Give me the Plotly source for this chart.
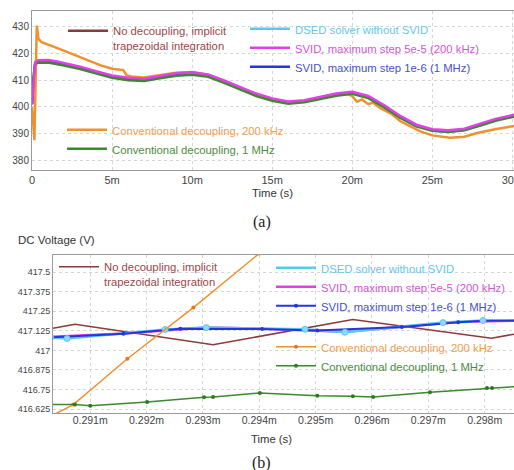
import plotly.graph_objects as go

# ---------------- (a) full transient, time in ms ----------------
t_main = [0, 0.1, 0.2, 0.4, 1.0, 1.5, 2.0, 3.0, 4.0, 5.0, 6.0, 7.0, 8.0, 9.0, 10.0, 11.0, 12.0,
          13.0, 14.0, 15.0, 16.0, 17.0, 18.0, 19.0, 20.0, 21.0, 22.0, 23.0, 24.0, 25.0, 26.0,
          27.0, 28.0, 29.0, 30.0, 30.2]
v_nodec_a = [401.0, 410.6, 416.4, 417.1, 417.2, 416.7, 416.0, 414.7, 413.0, 411.4, 410.5, 410.2, 411.2,
             412.2, 412.6, 411.8, 409.5, 406.9, 404.6, 402.8, 401.6, 402.1, 403.4, 404.6, 405.3,
             403.7, 400.2, 396.2, 392.9, 391.2, 390.8, 391.4, 393.3, 395.2, 396.5, 396.7]
v_dsed_a = [402.5, 410.4, 416.3, 417.0, 417.1, 416.6, 415.9, 414.6, 412.9, 411.3, 410.4, 410.1, 411.1,
            412.1, 412.5, 411.7, 409.4, 406.8, 404.5, 402.7, 401.5, 402.0, 403.3, 404.5, 405.2,
            403.6, 400.1, 396.1, 392.8, 391.1, 390.7, 391.3, 393.2, 395.1, 396.4, 396.6]
v_svid200_a = [401.0, 411.0, 416.8, 417.5, 417.6, 417.1, 416.4, 415.1, 413.4, 411.8, 410.9, 410.6, 411.6,
               412.6, 413.0, 412.2, 409.9, 407.3, 405.0, 403.2, 402.0, 402.5, 403.8, 405.0, 405.7,
               404.1, 400.6, 396.6, 393.3, 391.6, 391.2, 391.8, 393.7, 395.6, 396.9, 397.1]
v_svid1m_a = [401.0, 410.7, 416.5, 417.2, 417.3, 416.8, 416.1, 414.8, 413.1, 411.5, 410.6, 410.3, 411.3,
              412.3, 412.7, 411.9, 409.6, 407.0, 404.7, 402.9, 401.7, 402.2, 403.5, 404.7, 405.4,
              403.8, 400.3, 396.3, 393.0, 391.3, 390.9, 391.5, 393.4, 395.3, 396.6, 396.8]
v_conv1m_a = [404.0, 412.0, 416.2, 416.6, 416.7, 416.2, 415.5, 414.2, 412.5, 410.9, 410.0, 409.7, 410.7,
              411.7, 412.1, 411.3, 409.0, 406.4, 404.1, 402.3, 401.2, 401.7, 403.0, 404.2, 404.9,
              403.3, 399.8, 395.9, 392.7, 391.0, 390.6, 391.2, 393.0, 394.9, 396.2, 396.4]
t_conv200_a = [0, 0.08, 0.15, 0.3, 0.4, 0.6, 1.0, 1.75, 3.0, 4.25, 5.0, 5.7, 5.9, 6.2, 7.0, 8.0, 9.0,
               10.0, 11.0, 12.0, 13.0, 14.0, 15.0, 16.0, 17.0, 18.0, 19.0, 19.7, 20.0, 20.3, 20.6,
               21.0, 21.3, 21.75, 22.4, 23.0, 24.25, 25.0, 26.1, 27.0, 27.8, 29.0, 30.2]
v_conv200_a = [400.0, 393.0, 387.5, 430.5, 425.5, 424.3, 423.3, 421.7, 418.7, 415.7, 414.3, 413.8, 411.9,
               411.4, 411.0, 412.0, 412.8, 413.1, 412.0, 409.4, 406.8, 404.5, 402.7, 401.5, 402.0,
               403.3, 404.5, 404.9, 404.0, 401.9, 402.8, 401.0, 401.6, 399.5, 397.6, 394.6, 390.8,
               389.3, 388.4, 388.8, 390.2, 391.7, 392.9]
xt_a = [0, 5, 10, 15, 20, 25, 30]
xl_a = ["0", "5m", "10m", "15m", "20m", "25m", "30m"]
yt_a = [380, 390, 400, 410, 420, 430]

# ---------------- (b) zoom, time in ms ----------------
t_nodec_b = [0.29034, 0.29073, 0.29318, 0.29566, 0.29812, 0.29852]
v_nodec_b = [417.142, 417.168, 417.036, 417.198, 417.078, 417.104]
t_dsed_b = [0.29030, 0.29059, 0.29233, 0.29306, 0.29481, 0.29552, 0.29726, 0.29797, 0.29860]
v_dsed_b = [417.082, 417.076, 417.134, 417.146, 417.135, 417.116, 417.178, 417.191, 417.190]
t_svid200_b = [0.29030, 0.29159, 0.29306, 0.29405, 0.29552, 0.29653, 0.29753, 0.29860]
v_svid200_b = [417.086, 417.108, 417.147, 417.139, 417.120, 417.150, 417.181, 417.192]
t_svid1m_b = [0.29030, 0.29159, 0.29260, 0.29405, 0.29503, 0.29653, 0.29753, 0.29797, 0.29860]
v_svid1m_b = [417.083, 417.106, 417.138, 417.137, 417.128, 417.149, 417.180, 417.190, 417.190]
t_conv200_b = [0.29020, 0.29070, 0.29166, 0.29283, 0.29400, 0.29500]
v_conv200_b = [416.560, 416.654, 416.947, 417.274, 417.620, 417.950]
t_conv1m_b = [0.29025, 0.29073, 0.29100, 0.29201, 0.29302, 0.29318, 0.29401, 0.29503, 0.29566,
              0.29602, 0.29703, 0.29804, 0.29813, 0.29862]
v_conv1m_b = [416.654, 416.654, 416.647, 416.670, 416.700, 416.702, 416.728, 416.711, 416.707,
              416.702, 416.732, 416.760, 416.760, 416.771]
xt_b = [0.291, 0.292, 0.293, 0.294, 0.295, 0.296, 0.297, 0.298]
xl_b = ["0.291m", "0.292m", "0.293m", "0.294m", "0.295m", "0.296m", "0.297m", "0.298m"]
yt_b = [416.625, 416.75, 416.875, 417, 417.125, 417.25, 417.375, 417.5]
yl_b = ["416.625", "416.75", "416.875", "417", "417.125", "417.25", "417.375", "417.5"]

names = ["No decoupling, implicit<br>trapezoidal integration", "DSED solver without SVID",
         "SVID, maximum step 5e-5 (200 kHz)", "SVID, maximum step 1e-6 (1 MHz)",
         "Conventional decoupling, 200 kHz", "Conventional decoupling, 1 MHz"]
line_cols = ["#8c3a3a", "#5cc8f0", "#e040e8", "#2535e0", "#f0902e", "#3a8a2c"]
text_cols = ["#98484a", "#66c6ee", "#d456dc", "#4552c8", "#f0a052", "#4c8c3e"]


def lab(i):
    return "<span style='color:%s'>%s</span>" % (text_cols[i], names[i])


fig = go.Figure()

# (a) traces
top_specs = [
    (0, t_main, v_nodec_a, "legend", 1),
    (1, t_main, v_dsed_a, "legend2", 2),
    (3, t_main, v_svid1m_a, "legend2", 4),
    (4, t_conv200_a, v_conv200_a, "legend3", 5),
    (5, t_main, v_conv1m_a, "legend3", 6),
    (2, t_main, v_svid200_a, "legend2", 3),
]
for i, tx, vy, lg, rk in top_specs:
    fig.add_trace(go.Scatter(x=tx, y=vy, mode="lines", name=lab(i),
                             line=dict(color=line_cols[i], width=2.5),
                             legend=lg, legendrank=rk, xaxis="x", yaxis="y"))

# (b) traces
fig.add_trace(go.Scatter(x=t_nodec_b, y=v_nodec_b, mode="lines", name=lab(0),
                         line=dict(color=line_cols[0], width=1.5), legend="legend4",
                         legendrank=1, xaxis="x2", yaxis="y2"))
fig.add_trace(go.Scatter(x=t_svid200_b, y=v_svid200_b, mode="lines", name=lab(2),
                         line=dict(color=line_cols[2], width=2.5), legend="legend5",
                         legendrank=3, xaxis="x2", yaxis="y2"))
fig.add_trace(go.Scatter(x=t_dsed_b, y=v_dsed_b, mode="lines", name=lab(1),
                         line=dict(color=line_cols[1], width=2.5), legend="legend5",
                         legendrank=2, xaxis="x2", yaxis="y2"))
fig.add_trace(go.Scatter(x=t_svid1m_b, y=v_svid1m_b, mode="lines+markers", name=lab(3),
                         line=dict(color=line_cols[3], width=2), marker=dict(size=4, color=line_cols[3]),
                         legend="legend5", legendrank=4, xaxis="x2", yaxis="y2"))
fig.add_trace(go.Scatter(x=t_dsed_b, y=v_dsed_b, mode="markers", showlegend=False,
                         marker=dict(size=6, color="#8fd8f6", line=dict(color=line_cols[1], width=1)),
                         xaxis="x2", yaxis="y2"))
fig.add_trace(go.Scatter(x=t_conv200_b, y=v_conv200_b, mode="lines+markers", name=lab(4),
                         line=dict(color=line_cols[4], width=1.5), marker=dict(size=4, color="#e07820"),
                         legend="legend6", legendrank=5, xaxis="x2", yaxis="y2"))
fig.add_trace(go.Scatter(x=t_conv1m_b, y=v_conv1m_b, mode="lines+markers", name=lab(5),
                         line=dict(color=line_cols[5], width=1.5), marker=dict(size=4, color="#2e7a22"),
                         legend="legend6", legendrank=6, xaxis="x2", yaxis="y2"))

W, H = 514, 470
FONT = "Liberation Sans, Arial, sans-serif"
SERIF = "Liberation Serif, Times New Roman, serif"


def px(x):
    return x / W


def py(y):
    return 1 - y / H


axis_common = dict(showline=True, linecolor="#9a9a9a", linewidth=1, mirror=True,
                   showgrid=True, gridcolor="#d6d6d6", griddash="dot", gridwidth=1,
                   zeroline=False, ticks="", automargin=False, ticklabeloverflow="allow")

leg_common = dict(bgcolor="rgba(0,0,0,0)", borderwidth=0, xanchor="left", yanchor="top",
                  valign="top", itemwidth=40, traceorder="normal",
                  font=dict(family=FONT, size=11.3))


def ann(text, x, y, size, family=FONT, color="#333"):
    return dict(text=text, x=px(x), y=py(y), xref="paper", yref="paper",
                xanchor="center", yanchor="middle", showarrow=False,
                font=dict(family=family, size=size, color=color))


fig.update_layout(
    width=W, height=H, margin=dict(l=0, r=0, t=0, b=0, autoexpand=False),
    paper_bgcolor="white", plot_bgcolor="white",
    xaxis=dict(domain=[px(32), 1], range=[0, 30.1], tickvals=xt_a, ticktext=xl_a,
               anchor="y", tickfont=dict(family=FONT, size=11, color="#444"), **axis_common),
    yaxis=dict(domain=[py(170), py(11)], range=[376.3, 436], tickvals=yt_a,
               anchor="x", tickfont=dict(family=FONT, size=10, color="#444"), **axis_common),
    xaxis2=dict(domain=[px(53), 1], range=[0.29034, 0.29852], tickvals=xt_b, ticktext=xl_b,
                anchor="y2", ticklabelstandoff=-3,
                tickfont=dict(family=FONT, size=10.5, color="#444"), **axis_common),
    yaxis2=dict(domain=[py(413), py(255)], range=[416.6, 417.61], tickvals=yt_b, ticktext=yl_b,
                anchor="x2", tickfont=dict(family=FONT, size=9, color="#444"), **axis_common),
    legend=dict(x=px(63), y=py(17), **leg_common),
    legend2=dict(x=px(245), y=py(15), **leg_common),
    legend3=dict(x=px(62), y=py(116), **leg_common),
    legend4=dict(x=px(54), y=py(253), **leg_common),
    legend5=dict(x=px(271), y=py(254), **leg_common),
    legend6=dict(x=px(271), y=py(333), **leg_common),
    showlegend=True,
    annotations=[
        ann("Time (s)", 272, 193, 11.3),
        ann("(a)", 262, 222, 16, SERIF, "#222"),
        ann("DC Voltage (V)", 56, 240, 11.5),
        ann("Time (s)", 271, 439, 11.3),
        ann("(b)", 261, 463, 16, SERIF, "#222"),
    ],
)

fig.write_html("out.html", config={"displayModeBar": False},
               post_script="document.body.style.margin='0';document.body.style.overflow='hidden';")
